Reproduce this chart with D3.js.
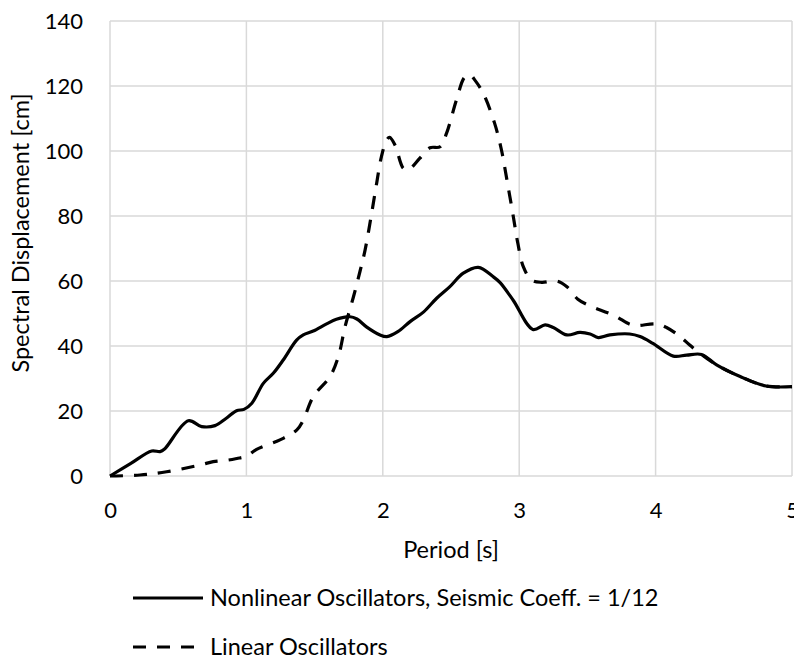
<!DOCTYPE html>
<html>
<head>
<meta charset="utf-8">
<script src="https://cdn.jsdelivr.net/npm/d3@7"></script>
<style>
  html, body { margin: 0; padding: 0; background: #fff; }
  svg { display: block; font-family: Lato, "Open Sans", sans-serif; }
</style>
</head>
<body>
<div id="chart"></div>
<script>
// period [s] and spectral displacement [cm]
const nonlinearT = [0, 0.15, 0.306, 0.367, 0.40, 0.574, 0.672, 0.77, 0.85, 0.928, 0.982, 1.04, 1.124, 1.197,
  1.27, 1.368, 1.417, 1.49, 1.588, 1.66, 1.76, 1.81, 1.88, 1.98, 2.03, 2.11, 2.2, 2.3, 2.395, 2.49, 2.59,
  2.70, 2.81, 2.86, 2.957, 3.10, 3.19, 3.25, 3.35, 3.445, 3.52, 3.58, 3.665, 3.81, 3.886, 3.98, 4.13,
  4.227, 4.337, 4.447, 4.62, 4.81, 5.0];
const nonlinearSd = [0, 3.8, 7.7, 7.5, 8.3, 17.0, 15.2, 15.5, 17.7, 20.1, 20.5, 22.4, 28.5, 31.6,
  35.7, 41.8, 43.4, 44.6, 46.8, 48.2, 49.0, 48.3, 45.9, 43.4, 42.9, 44.4, 47.5, 50.5, 54.7, 58.2, 62.4,
  64.2, 61.3, 59.5, 54.0, 45.1, 46.5, 45.7, 43.4, 44.2, 43.7, 42.6, 43.4, 43.7, 42.9, 40.8, 36.9,
  37.2, 37.4, 34.2, 30.6, 27.7, 27.5];

const linearT = [0, 0.22, 0.415, 0.66, 0.757, 0.867, 0.93, 1.0, 1.075, 1.246, 1.37, 1.417, 1.49, 1.613,
  1.674, 1.723, 1.784, 1.833, 1.87, 1.918, 1.955, 1.99, 2.028, 2.05, 2.09, 2.15, 2.187, 2.27, 2.346,
  2.42, 2.467, 2.54, 2.60, 2.64, 2.675, 2.737, 2.82, 2.87, 2.91, 2.957, 2.99, 3.03, 3.09, 3.165, 3.275,
  3.35, 3.43, 3.505, 3.70, 3.81, 3.86, 4.007, 4.08, 4.18, 4.25, 4.337, 4.447, 4.62, 4.81, 5.0];
const linearSd = [0, 0.3, 1.3, 3.4, 4.4, 4.9, 5.4, 6.1, 8.2, 11.1, 14.2, 17.2, 24.4, 30.6,
  36.7, 45.9, 55.0, 63.0, 69.5, 80.8, 90.1, 98.3, 103.4, 104.2, 101.8, 94.7, 94.2, 97.7, 101.0,
  101.3, 105.4, 115.7, 122.7, 123.4, 121.8, 117.7, 108.5, 100.3, 91.1, 79.8, 71.6, 64.4, 60.3, 59.6, 60.0,
  58.2, 54.4, 52.6, 49.3, 46.7, 46.3, 46.8, 45.7, 42.9, 40.3, 37.4, 34.2, 30.6, 27.7, 27.5];

const xTicks = [0, 1, 2, 3, 4, 5];
const yTicks = [0, 20, 40, 60, 80, 100, 120, 140];

const seriesNames = ["Nonlinear Oscillators, Seismic Coeff. = 1/12", "Linear Oscillators"];

const width = 794, height = 662;
const margin = { top: 21, right: 2, bottom: 186, left: 110 };
const dash = "13,11";
const tickSize = 22, titleSize = 23.5;

const svg = d3.select("#chart").append("svg")
  .attr("width", width)
  .attr("height", height);

const x = d3.scaleLinear().domain([0, 5]).range([margin.left, width - margin.right]);
const y = d3.scaleLinear().domain([0, 140]).range([height - margin.bottom, margin.top]);

// gridlines
const grid = svg.append("g").attr("stroke", "#d9d9d9").attr("stroke-width", 1.5);
grid.selectAll(".gx").data(xTicks).enter().append("line")
  .attr("x1", d => x(d)).attr("x2", d => x(d))
  .attr("y1", y(0)).attr("y2", y(140));
grid.selectAll(".gy").data(yTicks).enter().append("line")
  .attr("x1", x(0)).attr("x2", x(5))
  .attr("y1", d => y(d)).attr("y2", d => y(d));

// axes (labels only, lines come from the grid)
const xAxis = svg.append("g")
  .attr("transform", `translate(0,${y(0)})`)
  .call(d3.axisBottom(x).tickValues(xTicks).tickSize(0).tickPadding(26).tickFormat(d3.format("d")));
const yAxis = svg.append("g")
  .attr("transform", `translate(${x(0)},0)`)
  .call(d3.axisLeft(y).tickValues(yTicks).tickSize(0).tickPadding(27));
[xAxis, yAxis].forEach(a => {
  a.select(".domain").remove();
  a.selectAll("text")
    .attr("font-family", "Lato, 'Open Sans', sans-serif")
    .attr("font-size", tickSize)
    .attr("fill", "#000");
});

svg.append("text")
  .attr("x", (x(0) + x(5)) / 2)
  .attr("y", 558)
  .attr("text-anchor", "middle")
  .attr("font-size", titleSize)
  .text("Period [s]");

svg.append("text")
  .attr("transform", `translate(29,233) rotate(-90)`)
  .attr("text-anchor", "middle")
  .attr("font-size", titleSize)
  .text("Spectral Displacement [cm]");

// curves
const line = d3.line()
  .x(d => x(d[0]))
  .y(d => y(d[1]))
  .curve(d3.curveCatmullRom.alpha(0.5));

svg.append("path")
  .datum(d3.zip(linearT, linearSd))
  .attr("d", line)
  .attr("fill", "none")
  .attr("stroke", "#000")
  .attr("stroke-width", 3.2)
  .attr("stroke-dasharray", dash);

svg.append("path")
  .datum(d3.zip(nonlinearT, nonlinearSd))
  .attr("d", line)
  .attr("fill", "none")
  .attr("stroke", "#000")
  .attr("stroke-width", 3.2)
  .attr("stroke-linejoin", "round");

// legend
const legend = svg.append("g");
const rows = legend.selectAll("g").data(seriesNames).enter().append("g")
  .attr("transform", (d, i) => `translate(133,${598 + i * 49})`);
rows.append("line")
  .attr("x1", 0).attr("x2", 70)
  .attr("stroke", "#000")
  .attr("stroke-width", 3.2)
  .attr("stroke-dasharray", (d, i) => i === 0 ? null : dash);
rows.append("text")
  .attr("x", 77)
  .attr("y", 8)
  .attr("font-size", titleSize)
  .text(d => d);
</script>
</body>
</html>
